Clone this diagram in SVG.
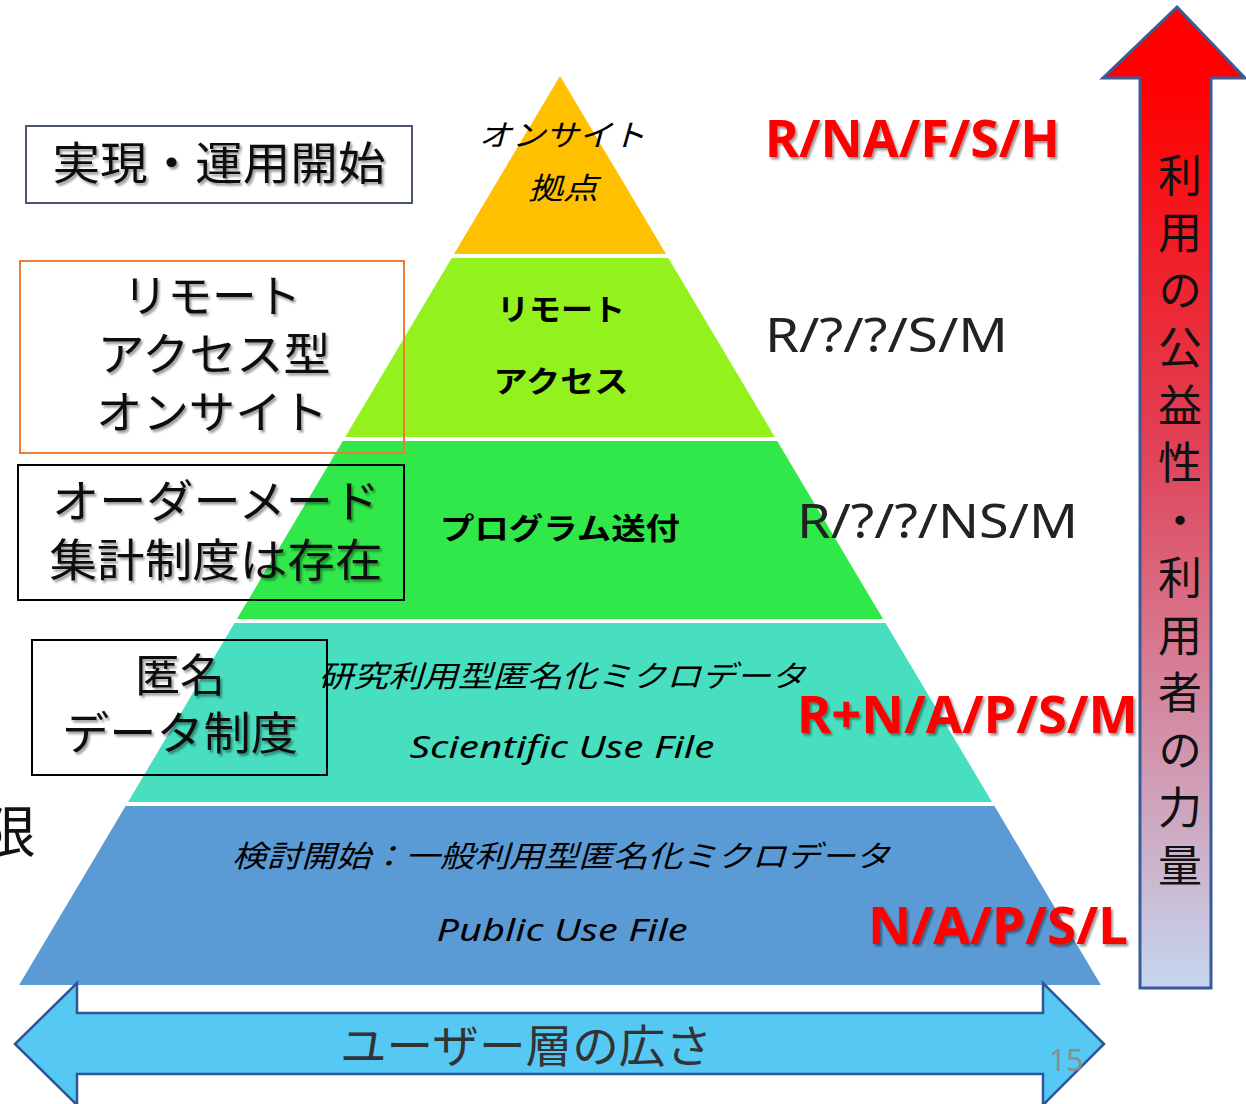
<svg xmlns="http://www.w3.org/2000/svg" width="1246" height="1104" viewBox="0 0 1246 1104">
<defs>
<linearGradient id="upGrad" gradientUnits="userSpaceOnUse" x1="0" y1="90" x2="0" y2="988">
<stop offset="0" stop-color="#FF0000"/>
<stop offset="0.4" stop-color="#E04258"/>
<stop offset="1" stop-color="#C6D6F0"/>
</linearGradient>
<filter id="shadow" x="-10%" y="-20%" width="130%" height="150%">
<feDropShadow dx="2" dy="2.5" stdDeviation="1.2" flood-color="#000" flood-opacity="0.4"/>
</filter>
<style>
.jp{font-family:"Noto Sans CJK JP","Noto Sans",sans-serif;}
.lat{font-family:"Noto Sans","Open Sans","Liberation Sans",sans-serif;}
.it{font-style:italic;}
.box{fill:none;stroke-width:2;}
.boxlbl{font-size:45px;fill:#111;text-anchor:middle;filter:url(#shadow);}
.lyr{font-size:30px;fill:#000;text-anchor:middle;}
.red{fill:#FF0000;font-weight:bold;filter:url(#shadow);}
.code{fill:#222;}
</style>
</defs>
<rect width="1246" height="1104" fill="#FFFFFF"/>

<!-- partially visible character at left -->
<text class="jp" x="-20" y="852" font-size="56" fill="#111">限</text>

<g id="pyramid">
<g id="layer-onsite">
<polygon points="560,76 666,254 454,254" fill="#FFC000"/>
<text class="jp it lyr" x="562" y="146" font-size="33" textLength="167" lengthAdjust="spacingAndGlyphs">オンサイト</text>
<text class="jp it lyr" x="563" y="199" font-size="34" textLength="70" lengthAdjust="spacingAndGlyphs">拠点</text>
</g>
<g id="layer-remote">
<polygon points="451.7,258 668.3,258 774.8,437 345.2,437" fill="#93F21D"/>
<text class="jp lyr" x="561" y="320" font-size="30" font-weight="bold" textLength="128" lengthAdjust="spacingAndGlyphs">リモート</text>
<text class="jp lyr" x="561" y="392" font-size="30" font-weight="bold" textLength="135" lengthAdjust="spacingAndGlyphs">アクセス</text>
</g>
<g id="layer-program">
<polygon points="342.8,441 777.2,441 883.1,619 236.9,619" fill="#30E84A"/>
<text class="jp lyr" x="560" y="539" font-size="33" font-weight="bold" textLength="240" lengthAdjust="spacingAndGlyphs">プログラム送付</text>
</g>
<g id="layer-suf">
<polygon points="234.5,623 885.5,623 992,802 128,802" fill="#48DFC0"/>
<text class="jp it lyr" x="562" y="687" font-size="33" textLength="487" lengthAdjust="spacingAndGlyphs">研究利用型匿名化ミクロデータ</text>
<text class="lat it lyr" x="562" y="758" font-size="34" textLength="305" lengthAdjust="spacingAndGlyphs">Scientific Use File</text>
</g>
<g id="layer-puf">
<polygon points="125.6,806 994.4,806 1100.9,985 19.1,985" fill="#5B9BD5"/>
<text class="jp it lyr" x="561" y="867" font-size="33" textLength="658" lengthAdjust="spacingAndGlyphs">検討開始：一般利用型匿名化ミクロデータ</text>
<text class="lat it lyr" x="562" y="941" font-size="34" textLength="251" lengthAdjust="spacingAndGlyphs">Public Use File</text>
</g>
</g>

<g id="box-start">
<rect class="box" x="26" y="126" width="386" height="77" stroke="#4A5672"/>
<text class="jp boxlbl" x="219" y="180" textLength="333" lengthAdjust="spacingAndGlyphs">実現・運用開始</text>
</g>
<g id="box-remote">
<rect class="box" x="20" y="261" width="384" height="192" stroke="#ED7D31"/>
<text class="jp boxlbl" x="212" y="313" textLength="178" lengthAdjust="spacingAndGlyphs">リモート</text>
<text class="jp boxlbl" x="214" y="371" textLength="233" lengthAdjust="spacingAndGlyphs">アクセス型</text>
<text class="jp boxlbl" x="212" y="429" textLength="232" lengthAdjust="spacingAndGlyphs">オンサイト</text>
</g>
<g id="box-ordermade">
<rect class="box" x="18" y="465" width="386" height="135" stroke="#000"/>
<text class="jp boxlbl" x="216" y="518" textLength="328" lengthAdjust="spacingAndGlyphs">オーダーメード</text>
<text class="jp boxlbl" x="216" y="577" textLength="333" lengthAdjust="spacingAndGlyphs">集計制度は存在</text>
</g>
<g id="box-anon">
<rect class="box" x="32" y="640" width="295" height="135" stroke="#000"/>
<text class="jp boxlbl" x="180" y="692">匿名</text>
<text class="jp boxlbl" x="180" y="750" textLength="236" lengthAdjust="spacingAndGlyphs">データ制度</text>
</g>

<g id="codes">
<text class="lat red" x="765" y="157" font-size="52" textLength="295" lengthAdjust="spacingAndGlyphs">R/NA/F/S/H</text>
<text class="lat code" x="765" y="352" font-size="48" textLength="243" lengthAdjust="spacingAndGlyphs">R/?/?/S/M</text>
<text class="lat code" x="797" y="538" font-size="48" textLength="281" lengthAdjust="spacingAndGlyphs">R/?/?/NS/M</text>
<text class="lat red" x="797" y="733" font-size="52" textLength="341" lengthAdjust="spacingAndGlyphs">R+N/A/P/S/M</text>
</g>

<g id="arrows">
<g id="arrow-up">
<path d="M1177,7 L1245,78 L1211,78 L1211,988 L1140,988 L1140,78 L1103,78 Z" fill="url(#upGrad)" stroke="#3A5A98" stroke-width="3" stroke-linejoin="miter"/>
<text class="jp" x="1180" y="153" font-size="44" fill="#111" letter-spacing="13.5" style="writing-mode:vertical-rl">利用の公益性・利用者の力量</text>
</g>
<g id="arrow-users">
<path d="M15,1044 L77,983 L77,1013 L1043,1013 L1043,983 L1104,1044 L1043,1105 L1043,1074 L77,1074 L77,1105 Z" fill="#55C9F4" stroke="#2F5597" stroke-width="2.5"/>
<text class="jp" x="526" y="1063" font-size="45" fill="#333" text-anchor="middle" textLength="372" lengthAdjust="spacingAndGlyphs">ユーザー層の広さ</text>
</g>
</g>

<g id="code-puf">
<text class="lat red" x="868" y="944" font-size="52" textLength="260" lengthAdjust="spacingAndGlyphs">N/A/P/S/L</text>
</g>

<text class="lat" x="1049" y="1071" font-size="30" fill="#8C8C8C">15</text>
</svg>
